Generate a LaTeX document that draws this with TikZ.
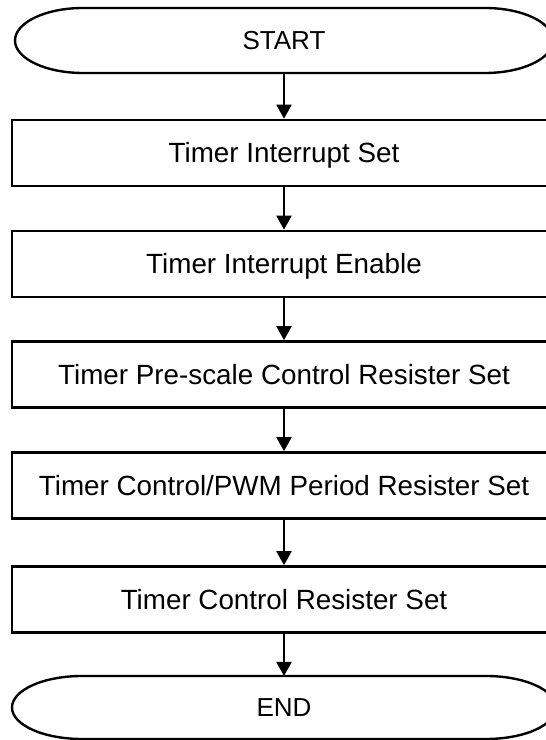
\documentclass[tikz,border=0pt]{standalone}
\usepackage{fontspec}
\setmainfont{Liberation Sans}
\usetikzlibrary{arrows.meta}
\begin{document}
\begin{tikzpicture}[x=1pt,y=1pt,
  boxstyle/.style={draw=black,line width=2.6pt,rectangle,minimum width=544pt,minimum height=66pt,inner sep=0pt},
  lbl/.style={font=\fontsize{27.8}{27.8}\selectfont,text height=19.9pt,text depth=0pt,inner sep=0pt},
  tlbl/.style={font=\fontsize{26}{26}\selectfont,text height=18.6pt,text depth=0pt,inner sep=0pt},
  conn/.style={line width=2pt,-{Triangle[width=15pt,length=14pt]}},
  termline/.style={line width=2.4pt}]
\useasboundingbox (0,0) rectangle (546,740);
% START terminal
\draw[termline] (83,732) -- (485,732) arc[start angle=90,end angle=-90,x radius=68,y radius=32.5] -- (83,667) arc[start angle=270,end angle=90,x radius=68,y radius=32.5] -- cycle;
\node[tlbl] (tstart) at (284,699.5) {START};
\coordinate (startbot) at (284,667);
% boxes
\node[boxstyle] (b1) at (284,587) {};
\node[lbl] (t1) at (284,587) {Timer Interrupt Set};
\node[boxstyle] (b2) at (284,476) {};
\node[lbl] (t2) at (284,476) {Timer Interrupt Enable};
\node[boxstyle] (b3) at (284,365.5) {};
\node[lbl] (t3) at (284,365.5) {Timer Pre-scale Control Resister Set};
\node[boxstyle] (b4) at (284,254.5) {};
\node[lbl] (t4) at (284,254.5) {Timer Control/PWM Period Resister Set};
\node[boxstyle] (b5) at (284,140.5) {};
\node[lbl] (t5) at (284,140.5) {Timer Control Resister Set};
% END terminal
\draw[termline] (82,64) -- (486,64) arc[start angle=90,end angle=-90,x radius=70,y radius=31.5] -- (82,1) arc[start angle=270,end angle=90,x radius=70,y radius=31.5] -- cycle;
\node[tlbl] (tend) at (284,32.5) {END};
\coordinate (endtop) at (284,64);
% connectors
\draw[conn] (startbot) -- (b1.north);
\draw[conn] (b1.south) -- (b2.north);
\draw[conn] (b2.south) -- (b3.north);
\draw[conn] (b3.south) -- (b4.north);
\draw[conn] (b4.south) -- (b5.north);
\draw[conn] (b5.south) -- (endtop);
\end{tikzpicture}
\end{document}
